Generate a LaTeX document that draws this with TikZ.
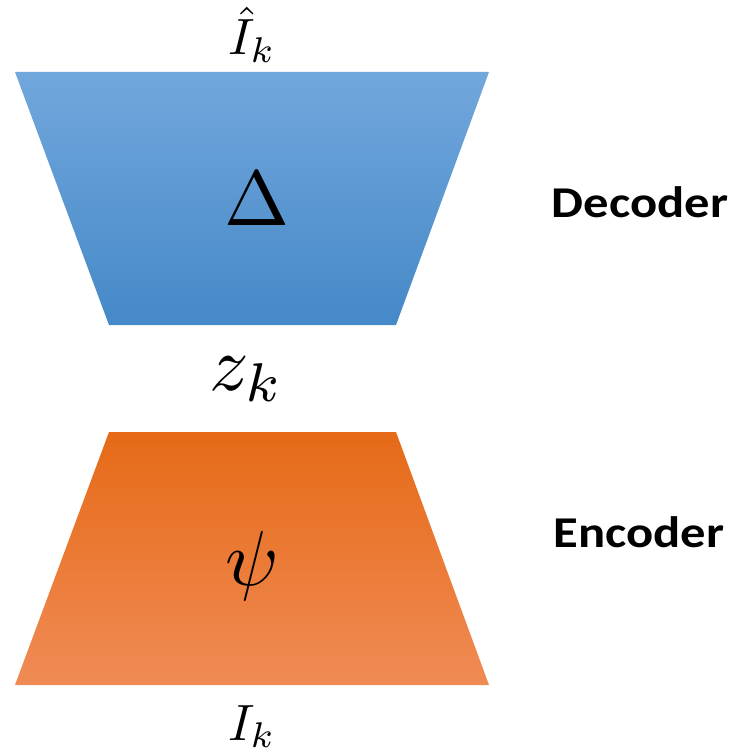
\documentclass[tikz,border=0pt]{standalone}
\usepackage{graphicx}
\usepackage{fontspec}
\newfontfamily\labelfont[FakeStretch=1.15]{Carlito}
\usetikzlibrary{positioning}
\definecolor{dectop}{HTML}{72A7DC}
\definecolor{decbot}{HTML}{4589C8}
\definecolor{enctop}{HTML}{E66A17}
\definecolor{encbot}{HTML}{F08B55}
\newcommand{\mathsmall}[1]{\scalebox{5.1}{$#1$}}
\newcommand{\mathbig}[1]{\scalebox{7.8}{$#1$}}

\begin{document}
\begin{tikzpicture}[
    x=1pt, y=-1pt,
    mathlbl/.style={inner sep=0pt, anchor=base},
    partlbl/.style={inner sep=0pt, anchor=base, font=\labelfont\bfseries\fontsize{44}{50}\selectfont},
]
\useasboundingbox (0,0) rectangle (738,754);

% --- Decoder ---
\coordinate (dtl) at (15,72);
\coordinate (dtr) at (489,72);
\coordinate (dbr) at (396,325);
\coordinate (dbl) at (109,325);
\shade[top color=dectop, bottom color=decbot] (dtl) -- (dtr) -- (dbr) -- (dbl) -- cycle;

% --- Encoder ---
\coordinate (etl) at (109,432);
\coordinate (etr) at (396,432);
\coordinate (ebr) at (489,685);
\coordinate (ebl) at (15,685);
\shade[top color=enctop, bottom color=encbot] (etl) -- (etr) -- (ebr) -- (ebl) -- cycle;

% --- Labels ---
\node[mathlbl] (ihat) at (252,55) {\mathsmall{\hat{I}_k}};
\node[mathlbl] (delta) at (257,225) {\mathbig{\Delta}};
\node[mathlbl] (z) at (247,390) {\mathbig{z_k}};
\node[mathlbl] (psi) at (252,585) {\mathbig{\psi}};
\node[mathlbl] (ik) at (252,740) {\mathsmall{I_k}};

\node[partlbl] (dec) at (640,217) {Decoder};
\node[partlbl] (enc) at (639,547) {Encoder};

\end{tikzpicture}
\end{document}
